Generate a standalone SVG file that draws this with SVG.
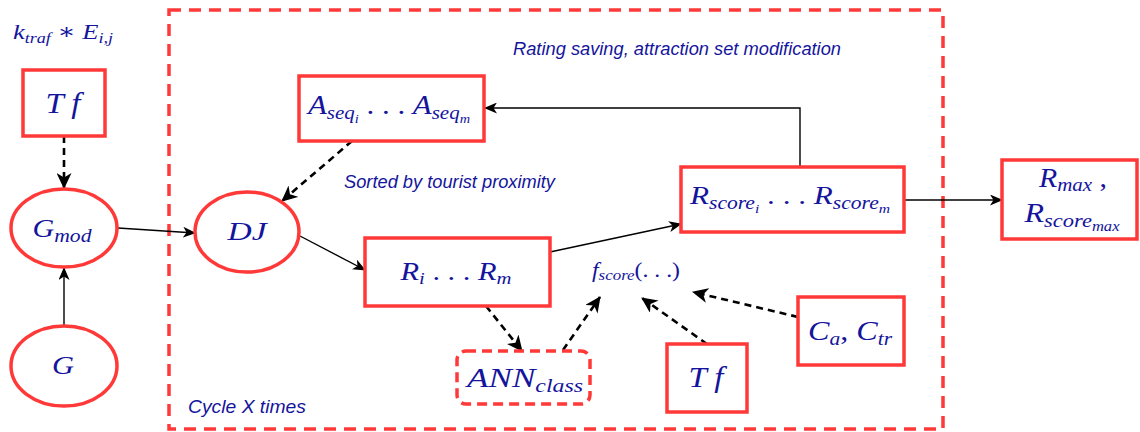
<svg xmlns="http://www.w3.org/2000/svg" width="1140" height="432" viewBox="0 0 1140 432">
<style>
.box{fill:#fff;stroke:#ff3838;stroke-width:3.5}
.dbox{fill:none;stroke:#ff3838;stroke-width:3.5;stroke-dasharray:12 8}
.ann{fill:#fff;stroke:#ff3838;stroke-width:3.5;stroke-dasharray:10 6}
.m{font-family:"Liberation Serif","DejaVu Serif",serif;font-style:italic;fill:#14149c}
.up{font-style:normal}
.lbl{font-family:"Liberation Sans",Arial,sans-serif;font-style:italic;font-size:18px;fill:#14149c}
.s{fill:none;stroke:#000;stroke-width:1.4}
.d{fill:none;stroke:#000;stroke-width:2.6;stroke-dasharray:7 5}
</style>
<defs>
<marker id="as" markerUnits="userSpaceOnUse" markerWidth="13" markerHeight="11" refX="12" refY="5.5" orient="auto"><path d="M0,0 L13,5.5 L0,11 L3.5,5.5 z" fill="#000"/></marker>
<marker id="ad" markerUnits="userSpaceOnUse" markerWidth="16" markerHeight="15" refX="15" refY="7.5" orient="auto"><path d="M0,0 L16,7.5 L0,15 L4.5,7.5 z" fill="#000"/></marker>
</defs>
<rect x="0" y="0" width="1140" height="432" fill="#fff"/>
<g id="cycle">
<rect class="dbox" x="169" y="10" width="774" height="419"/>
<text class="lbl" x="188" y="413" textLength="118" lengthAdjust="spacingAndGlyphs">Cycle X times</text>
</g>
<g id="labels">
<text class="lbl" x="513" y="55" textLength="328" lengthAdjust="spacingAndGlyphs">Rating saving, attraction set modification</text>
<text class="lbl" x="344" y="188" textLength="211" lengthAdjust="spacingAndGlyphs">Sorted by tourist proximity</text>
</g>
<g id="connectors">
<path class="s" d="M64,326 L64,268" marker-end="url(#as)"/>
<path class="d" d="M64,136 L64,188" marker-end="url(#ad)"/>
<path class="s" d="M118,228 L195,233" marker-end="url(#as)"/>
<path class="s" d="M300,236 L365,270" marker-end="url(#as)"/>
<path class="s" d="M550,252 L681,224" marker-end="url(#as)"/>
<path class="s" d="M800,167 L800,108 L485,108" marker-end="url(#as)"/>
<path class="s" d="M904,200 L1002,200" marker-end="url(#as)"/>
<path class="d" d="M352,141 L282,201" marker-end="url(#ad)"/>
<path class="d" d="M486,306 L522,351" marker-end="url(#ad)"/>
<path class="d" d="M563,350 L600,297" marker-end="url(#ad)"/>
<path class="d" d="M707,344 L642,298" marker-end="url(#ad)"/>
<path class="d" d="M798,317 L693,292" marker-end="url(#ad)"/>
</g>
<g id="ktraf">
<text class="m" x="13" y="39" font-size="22" textLength="100" lengthAdjust="spacingAndGlyphs">k<tspan font-size="15" dy="4">traf</tspan><tspan class="up" dy="-4"> ∗ </tspan>E<tspan font-size="15" dy="4">i,j</tspan></text>
</g>
<g id="tf1">
<rect class="box" x="23" y="70" width="82" height="66"/>
<text class="m" x="63" y="113" font-size="29" text-anchor="middle" textLength="35" lengthAdjust="spacingAndGlyphs">T f</text>
</g>
<g id="gmod">
<ellipse class="box" cx="64" cy="228" rx="53" ry="39"/>
<text class="m" x="62" y="237" font-size="25" text-anchor="middle" textLength="59" lengthAdjust="spacingAndGlyphs">G<tspan font-size="18" dy="5">mod</tspan></text>
</g>
<g id="g">
<ellipse class="box" cx="64" cy="366" rx="53" ry="40"/>
<text class="m" x="63" y="374" font-size="26" text-anchor="middle" textLength="22" lengthAdjust="spacingAndGlyphs">G</text>
</g>
<g id="dj">
<ellipse class="box" cx="247" cy="232" rx="52" ry="40"/>
<text class="m" x="247" y="240" font-size="26" text-anchor="middle" textLength="39" lengthAdjust="spacingAndGlyphs">DJ</text>
</g>
<g id="aseq">
<rect class="box" x="299" y="76" width="185" height="65"/>
<text class="m" x="389" y="114" font-size="28" text-anchor="middle" textLength="162" lengthAdjust="spacingAndGlyphs">A<tspan font-size="19" dy="5">seq</tspan><tspan font-size="13" dy="4">i</tspan><tspan class="up" dy="-9"> . . . </tspan>A<tspan font-size="19" dy="5">seq</tspan><tspan font-size="13" dy="4">m</tspan></text>
</g>
<g id="ri">
<rect class="box" x="365" y="238" width="185" height="68"/>
<text class="m" x="456" y="280" font-size="25" text-anchor="middle" textLength="111" lengthAdjust="spacingAndGlyphs">R<tspan font-size="17" dy="4">i</tspan><tspan class="up" dy="-4"> . . . </tspan>R<tspan font-size="17" dy="4">m</tspan></text>
</g>
<g id="rscore">
<rect class="box" x="681" y="167" width="223" height="65"/>
<text class="m" x="790" y="204" font-size="26" text-anchor="middle" textLength="200" lengthAdjust="spacingAndGlyphs">R<tspan font-size="18" dy="5">score</tspan><tspan font-size="13" dy="4">i</tspan><tspan class="up" dy="-9"> . . . </tspan>R<tspan font-size="18" dy="5">score</tspan><tspan font-size="13" dy="4">m</tspan></text>
</g>
<g id="rmax">
<rect class="box" x="1002" y="160" width="135" height="79"/>
<text class="m" x="1073" y="187" font-size="27" text-anchor="middle" textLength="68" lengthAdjust="spacingAndGlyphs">R<tspan font-size="19" dy="4">max</tspan><tspan class="up" dy="-4"> ,</tspan></text>
<text class="m" x="1072" y="222" font-size="27" text-anchor="middle" textLength="95" lengthAdjust="spacingAndGlyphs">R<tspan font-size="19" dy="5">score</tspan><tspan font-size="14" dy="4">max</tspan></text>
</g>
<g id="fscore">
<text class="m" x="592" y="277" font-size="21" textLength="88" lengthAdjust="spacingAndGlyphs">f<tspan font-size="15" dy="3">score</tspan><tspan class="up" dy="-3">(. . .)</tspan></text>
</g>
<g id="ann">
<rect class="ann" x="457" y="351" width="133" height="53" rx="9"/>
<text class="m" x="525" y="387" font-size="28" text-anchor="middle" textLength="116" lengthAdjust="spacingAndGlyphs">ANN<tspan font-size="19" dy="5">class</tspan></text>
</g>
<g id="tf2">
<rect class="box" x="667" y="344" width="80" height="68"/>
<text class="m" x="706" y="387" font-size="29" text-anchor="middle" textLength="35" lengthAdjust="spacingAndGlyphs">T f</text>
</g>
<g id="ca">
<rect class="box" x="798" y="297" width="106" height="68"/>
<text class="m" x="850" y="340" font-size="27" text-anchor="middle" textLength="84" lengthAdjust="spacingAndGlyphs">C<tspan font-size="18" dy="5">a</tspan><tspan class="up" dy="-5">, </tspan>C<tspan font-size="18" dy="5">tr</tspan></text>
</g>
</svg>
